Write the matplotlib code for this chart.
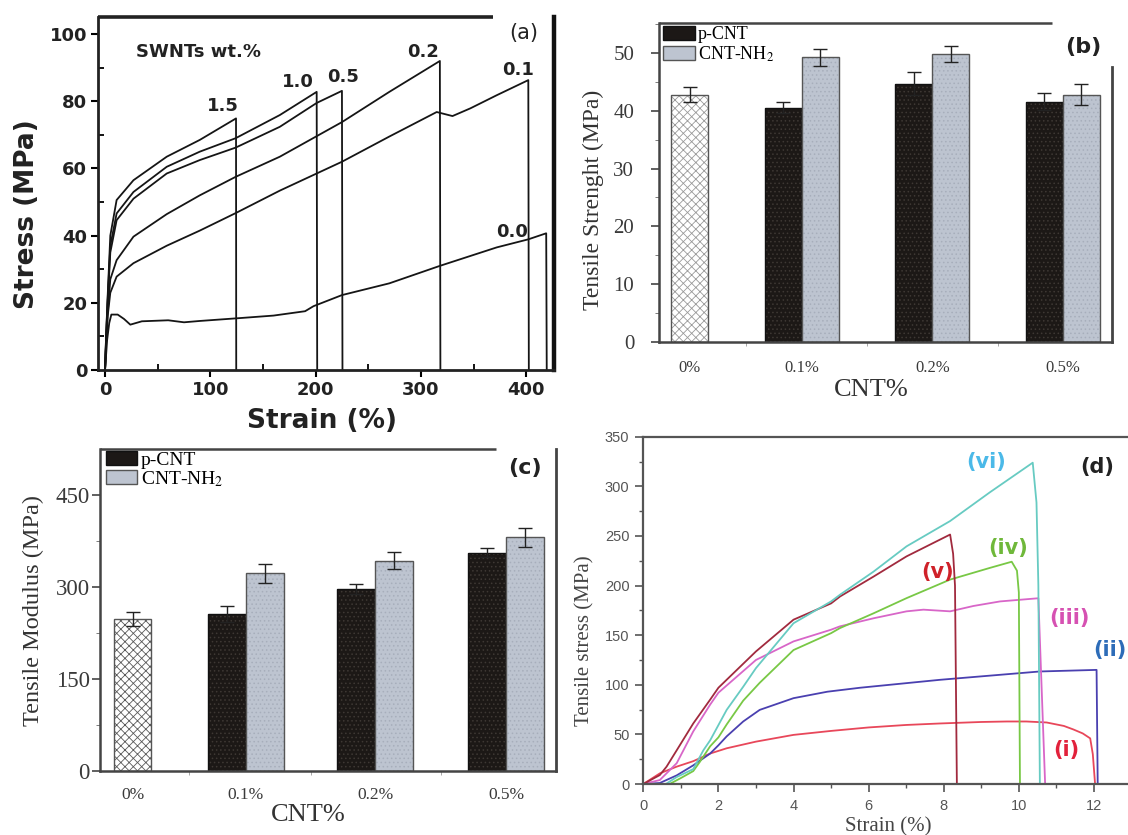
import matplotlib.pyplot as plt
import numpy as np
from matplotlib.patches import Patch
from matplotlib.ticker import MultipleLocator

plt.rcParams['hatch.linewidth'] = 0.6
plt.rcParams['mathtext.fontset'] = 'stix'

# ---------- (a) stress-strain, SWNTs wt.% ----------
a_names = ['1.5', '1.0', '0.5', '0.2', '0.1', '0.0']
strain_15 = [0, 1, 2.5, 5, 11, 27, 58.6, 90, 124.4, 124.6]
stress_15 = [0, 10, 22, 40, 50.6, 56.5, 63.5, 68.5, 74.9, 0]
strain_10 = [0, 1, 2.5, 5, 11, 27, 58.6, 90, 124, 166, 201, 201.5]
stress_10 = [0, 10, 21, 37, 46.6, 53, 60.5, 65, 69, 75.9, 82.8, 0]
strain_05 = [0, 1, 2.5, 5, 11, 27, 58.6, 90, 124, 166, 201, 225, 225.5]
stress_05 = [0, 9, 20, 35, 44.6, 51, 58.5, 62.5, 66.2, 72.4, 79.5, 83.1, 0]
strain_02 = [0, 1, 2.5, 5, 11, 27, 58.6, 90, 124, 166, 225, 270, 318, 318.5]
stress_02 = [0, 8, 17, 27, 32.7, 39.7, 46.4, 52, 57.5, 63.5, 73.8, 82.8, 92, 0]
strain_01 = [0, 1, 2.5, 5, 11, 27, 58.6, 90, 124, 166, 225, 270, 315, 330, 347, 372, 402, 402.5]
stress_01 = [0, 8, 16, 23, 27.8, 31.8, 37, 41.5, 46.7, 53.4, 62, 69.5, 76.8, 75.6, 77.9, 81.8, 86.3, 0]
strain_00 = [0, 2, 4, 6, 12, 18, 24, 35, 60, 75, 90, 130, 160, 190, 198, 225, 270, 318, 372, 402, 419, 419.5]
stress_00 = [0, 9, 14, 16.5, 16.5, 15.2, 13.5, 14.5, 14.8, 14.2, 14.6, 15.5, 16.2, 17.5, 19, 22.3, 25.8, 31, 36.5, 38.9, 40.7, 0]

# ---------- (b), (c) bar data ----------
cnt_levels = ['0%', '0.1%', '0.2%', '0.5%']
series_names = ['p-CNT', 'CNT-NH$_2$']
strength_neat, strength_neat_err = 42.8, 1.3
strength_pcnt = [40.6, 44.7, 41.6]
strength_pcnt_err = [1.0, 2.0, 1.5]
strength_nh2 = [49.3, 49.9, 42.8]
strength_nh2_err = [1.5, 1.35, 1.8]
modulus_neat, modulus_neat_err = 246.8, 11.5
modulus_pcnt = [255, 296.3, 355.5]
modulus_pcnt_err = [13, 8, 7]
modulus_nh2 = [321.8, 342.4, 380.5]
modulus_nh2_err = [16, 14.3, 15.7]

# ---------- (d) tensile curves ----------
d_names = ['(i)', '(ii)', '(iii)', '(iv)', '(v)', '(vi)']
d1_x = [0, 0.44, 0.89, 1.33, 1.78, 2.22, 3, 4, 5, 6, 7, 7.9, 9, 9.68, 10.2, 10.74, 11.2, 11.45, 11.7, 11.9, 11.97, 12.03]
d1_y = [0, 10.7, 17.5, 23, 30.7, 36, 42.7, 49.5, 53.5, 57, 59.5, 61, 62.5, 63, 63, 62, 58.5, 55, 51, 46, 30, 0]
d2_x = [0, 0.44, 0.89, 1.33, 1.78, 2.0, 2.22, 2.66, 3.1, 4, 4.9, 5.77, 7.9, 10.56, 12.07, 12.1]
d2_y = [0, 1, 8.7, 18.8, 30.7, 39, 48, 63, 74.7, 86.5, 93, 97, 105, 113.4, 115, 0]
d3_x = [0, 0.44, 0.89, 1.33, 1.78, 2, 3, 4, 5, 5.23, 6.13, 7.01, 7.46, 8.17, 8.79, 9.5, 10.52, 10.7]
d3_y = [0, 4, 21, 53, 80, 92, 125, 143.7, 155.5, 158.8, 167, 174, 175.7, 174, 179.4, 184, 187.2, 0]
d4_x = [0, 0.7, 1.0, 1.33, 1.5, 1.78, 2.0, 2.22, 2.66, 3.1, 4, 5, 5.23, 6.13, 7.01, 8.17, 9.23, 9.81, 9.95, 10.0, 10.03]
d4_y = [0, 0, 6, 13, 22, 38, 47, 60, 84, 102, 135, 152, 157, 172, 187.3, 206, 217.8, 224, 215, 193, 0]
d5_x = [0, 0.44, 0.62, 0.89, 1.33, 1.78, 2, 3, 4, 5, 5.24, 6.13, 7.01, 8.17, 8.25, 8.3, 8.35]
d5_y = [0, 9, 17.5, 34, 61, 85, 97, 133.6, 165.6, 182, 189, 209, 229.4, 251.4, 232, 200, 0]
d6_x = [0, 0.6, 0.89, 1.33, 1.6, 1.78, 2.22, 2.66, 3, 4, 5, 5.24, 6.13, 7.01, 8.17, 9.23, 10.37, 10.47, 10.52, 10.56]
d6_y = [0, 0, 7, 15, 34, 44, 74.7, 98, 116.8, 162, 184, 190.8, 214, 239.5, 265, 294, 323.8, 283.7, 200, 0]

W, H = 1128, 835
fig = plt.figure(figsize=(W / 100, H / 100), dpi=100)


def box(l, t, r, b):
    # pixel box -> figure fraction
    return [l / W, 1 - b / H, (r - l) / W, (b - t) / H]


SANS = 'DejaVu Sans'
SERIF = 'Liberation Serif'

# ================= (a) =================
ax = fig.add_axes(box(98.3, 17.3, 554, 370))
a_curves = [(strain_15, stress_15), (strain_10, stress_10), (strain_05, stress_05),
            (strain_02, stress_02), (strain_01, stress_01), (strain_00, stress_00)]
for x, y in a_curves:
    ax.plot(x, y, color='#151515', lw=1.3)
ax.set_xlim(-6.4, 426.4)
ax.set_ylim(0, 105)
ax.set_xticks([0, 100, 200, 300, 400])
ax.set_yticks([0, 20, 40, 60, 80, 100])
ax.xaxis.set_minor_locator(MultipleLocator(50))
ax.yaxis.set_minor_locator(MultipleLocator(10))
ax.tick_params(which='major', direction='out', length=5, width=1.5, pad=3, labelsize=13)
ax.tick_params(which='minor', direction='in', length=4, width=1.3)
for t in ax.get_xticklabels() + ax.get_yticklabels():
    t.set_fontweight('bold')
    t.set_family(SANS)
    t.set_color('#222')
for s in ['left', 'bottom']:
    ax.spines[s].set_linewidth(2)
    ax.spines[s].set_color('#222')
ax.spines['top'].set_visible(False)
ax.spines['right'].set_linewidth(3.2)
ax.spines['right'].set_color('#111')
ax.plot([0, 0.866], [1, 1], transform=ax.transAxes, color='#222', lw=2.6,
        clip_on=False, solid_capstyle='butt')
ax.set_ylabel('Stress (MPa)', fontsize=19, fontweight='bold', family=SANS, va='center', color='#222')
ax.yaxis.set_label_coords(-0.157, 0.442)
ax.set_xlabel('Strain (%)', fontsize=19, fontweight='bold', family=SANS, va='center', color='#222')
ax.xaxis.set_label_coords(0.491, -0.145)
a_label_pos = [(111.8, 78.6), (183.6, 85.8), (226.3, 87.1), (302.3, 94.7), (392.5, 89.3), (386.2, 41.2)]
for name, (px, py) in zip(a_names, a_label_pos):
    ax.text(px, py, name, ha='center', va='center', fontsize=13, fontweight='bold', family=SANS, color='#222')
ax.text(88.6, 94.7, 'SWNTs wt.%', ha='center', va='center', fontsize=13, fontweight='bold', family=SANS, color='#222')
ax.text(0.933, 0.955, '(a)', transform=ax.transAxes, ha='center', va='center', fontsize=15, family=SANS, color='#222')


# ================= (b), (c) bar panels =================
DARK, DARK_H = '#1c1816', '#3e3834'
LIGHT, LIGHT_H = '#bdc4d0', '#a7aebb'


def bar_panel(ax, neat, neat_err, pc, pc_err, nh, nh_err, centers, width, neat_hatch, ylim, xlim):
    centers = np.asarray(centers)
    g = centers[1:]
    # neat bar
    ax.bar(centers[0], neat, width, color='white', edgecolor=neat_hatch, hatch='xxxx', lw=0)
    ax.bar(centers[0], neat, width, fill=False, edgecolor='#555', lw=1)
    # p-CNT
    ax.bar(g - width / 2, pc, width, color=DARK, edgecolor=DARK_H, hatch='....', lw=0)
    ax.bar(g - width / 2, pc, width, fill=False, edgecolor='#111', lw=1)
    # CNT-NH2
    ax.bar(g + width / 2, nh, width, color=LIGHT, edgecolor=LIGHT_H, hatch='....', lw=0)
    ax.bar(g + width / 2, nh, width, fill=False, edgecolor='#555', lw=1)
    ekw = dict(fmt='none', ecolor='#222', elinewidth=1, capsize=5, capthick=1)
    ax.errorbar([centers[0]], [neat], yerr=[neat_err], **ekw)
    ax.errorbar(g - width / 2, pc, yerr=pc_err, **ekw)
    ax.errorbar(g + width / 2, nh, yerr=nh_err, **ekw)
    ax.set_xlim(*xlim)
    ax.set_ylim(*ylim)
    ax.set_xticks(centers)
    ax.set_xticklabels(cnt_levels)
    mids = (centers[:-1] + centers[1:]) / 2
    ax.set_xticks(mids, minor=True)
    for s in ['left', 'bottom']:
        ax.spines[s].set_linewidth(1.8)
        ax.spines[s].set_color('#444')
    ax.spines['top'].set_visible(False)
    ax.spines['right'].set_linewidth(2)
    ax.spines['right'].set_color('#444')
    ax.plot([0, 0.868], [1, 1], transform=ax.transAxes, color='#444', lw=1.8,
            clip_on=False, solid_capstyle='butt')
    ax.tick_params(axis='x', which='major', length=0)
    ax.tick_params(axis='x', which='minor', length=3, direction='out', color='#999')
    ax.tick_params(axis='y', which='major', direction='out', length=6, width=1.2, color='#444')
    ax.tick_params(axis='y', which='minor', direction='out', length=3, color='#666')
    for t in ax.get_xticklabels() + ax.get_yticklabels():
        t.set_family(SERIF)
        t.set_color('#3a3a3a')
    ax.set_xlabel('CNT%', fontsize=19, family=SERIF, va='center', color='#333')


handles = [Patch(facecolor=DARK, edgecolor='#111'), Patch(facecolor=LIGHT, edgecolor='#555')]

ax = fig.add_axes(box(659.3, 23.3, 1111.7, 341.7))
bar_panel(ax, strength_neat, strength_neat_err, strength_pcnt, strength_pcnt_err,
          strength_nh2, strength_nh2_err, [0, 0.86, 1.86, 2.86], 0.284, '#9a9a9a',
          (0, 55.2), (-0.233, 3.234))
ax.set_yticks([0, 10, 20, 30, 40, 50])
ax.yaxis.set_minor_locator(MultipleLocator(5))
ax.tick_params(axis='y', labelsize=15, pad=12)
ax.tick_params(axis='x', labelsize=12, pad=13)
ax.spines['right'].set_bounds(0, 47.7)
ax.set_ylabel('Tensile Strenght (MPa)', fontsize=17, family=SERIF, va='center', color='#333')
ax.yaxis.set_label_coords(-0.146, 0.445)
ax.xaxis.set_label_coords(0.468, -0.152)
ax.legend(handles, series_names, loc='upper left', bbox_to_anchor=(0.0075, 0.991),
          borderaxespad=0, borderpad=0, frameon=False, handlelength=1.8, handleheight=0.8,
          handletextpad=0.15, labelspacing=0.05, prop={'family': SERIF, 'size': 13})
ax.text(0.937, 0.927, '(b)', transform=ax.transAxes, ha='center', va='center',
        fontsize=16, fontweight='bold', family=SANS, color='#222')

ax = fig.add_axes(box(100, 449.3, 556, 770.7))
bar_panel(ax, modulus_neat, modulus_neat_err, modulus_pcnt, modulus_pcnt_err,
          modulus_nh2, modulus_nh2_err, [0, 0.872, 1.866, 2.872], 0.29, '#5a5a5a',
          (0, 524), (-0.25, 3.256))
ax.set_yticks([0, 150, 300, 450])
ax.yaxis.set_minor_locator(MultipleLocator(75))
ax.tick_params(axis='y', labelsize=16.5, pad=1.5)
ax.tick_params(axis='x', labelsize=12.5, pad=12)
ax.set_ylabel('Tensile Modulus (MPa)', fontsize=17.5, family=SERIF, va='center', color='#333')
ax.yaxis.set_label_coords(-0.146, 0.5)
ax.xaxis.set_label_coords(0.456, -0.138)
ax.legend(handles, series_names, loc='upper left', bbox_to_anchor=(0.013, 0.994),
          borderaxespad=0, borderpad=0, frameon=False, handlelength=1.6, handleheight=0.75,
          handletextpad=0.2, labelspacing=0.0, prop={'family': SERIF, 'size': 14})
ax.text(0.932, 0.941, '(c)', transform=ax.transAxes, ha='center', va='center',
        fontsize=16, fontweight='bold', family=SANS, color='#222')

# ================= (d) =================
ax = fig.add_axes(box(643.3, 436.7, 1131.5, 784))
d_curves = [(d1_x, d1_y), (d2_x, d2_y), (d3_x, d3_y), (d4_x, d4_y), (d5_x, d5_y), (d6_x, d6_y)]
line_colors = ['#e8475a', '#4a40b0', '#d866c8', '#78c845', '#a12a3e', '#67cbc2']
label_colors = ['#e2213b', '#2d6cb8', '#d651b2', '#6fb83a', '#cf2129', '#4bb9e8']
d_label_pos = [(11.27, 34.3), (12.88, 135), (11.36, 167), (9.72, 237.8), (7.83, 214), (9.14, 324.9)]
d_label_ha = ['center', 'right', 'center', 'center', 'center', 'center']
for (x, y), c in zip(d_curves, line_colors):
    ax.plot(x, y, color=c, lw=1.3)
for name, (px, py), c, ha in zip(d_names, d_label_pos, label_colors, d_label_ha):
    ax.text(px, py, name, ha=ha, va='center', fontsize=15, fontweight='bold', family=SANS,
            color=c, clip_on=False)
ax.text(0.929, 0.914, '(d)', transform=ax.transAxes, ha='center', va='center',
        fontsize=15, fontweight='bold', family=SANS, color='#222')
ax.set_xlim(0, 13)
ax.set_ylim(0, 350)
ax.set_xticks(np.arange(0, 13, 2))
ax.set_yticks(np.arange(0, 351, 50))
ax.xaxis.set_minor_locator(MultipleLocator(1))
ax.yaxis.set_minor_locator(MultipleLocator(25))
ax.tick_params(which='major', direction='out', length=6, width=1.2, color='#555',
               labelsize=10.5, labelcolor='#555', pad=4)
ax.tick_params(which='minor', direction='out', length=3, width=1, color='#555')
ax.tick_params(axis='x', pad=5)
for t in ax.get_xticklabels() + ax.get_yticklabels():
    t.set_family('Liberation Sans')
for s in ax.spines.values():
    s.set_linewidth(1.6)
    s.set_color('#555')
ax.set_ylabel('Tensile stress (MPa)', fontsize=15, family=SERIF, va='center', color='#444')
ax.yaxis.set_label_coords(-0.119, 0.412)
ax.set_xlabel('Strain (%)', fontsize=15, family=SERIF, va='center', color='#444')
ax.xaxis.set_label_coords(0.501, -0.123)

fig.savefig('out.png', dpi=100, facecolor='white')
